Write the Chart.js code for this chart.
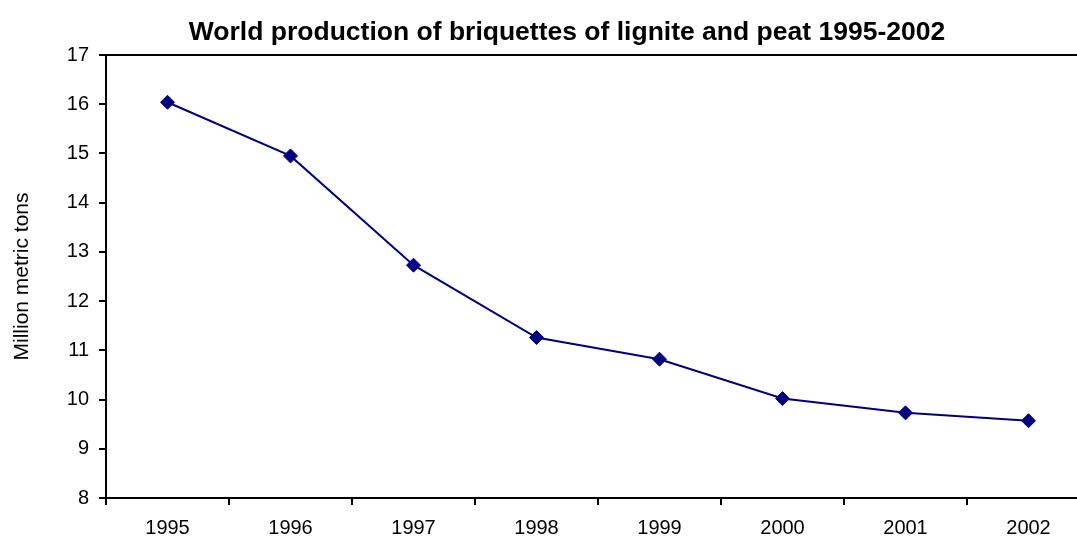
<!DOCTYPE html>
<html>
<head>
<meta charset="utf-8">
<script src="https://cdn.jsdelivr.net/npm/chart.js@4/dist/chart.umd.min.js"></script>
<style>
  html, body { margin: 0; padding: 0; background: #fff; overflow: hidden; }
  #wrap { width: 1100px; height: 538px; }
</style>
</head>
<body>
<div id="wrap"><canvas id="grafico"></canvas></div>
<script>
// dados //
const anos = ['1995', '1996', '1997', '1998', '1999', '2000', '2001', '2002'];
const producao = [16.04, 14.95, 12.73, 11.26, 10.82, 10.02, 9.73, 9.57];
const yTicks = [8, 9, 10, 11, 12, 13, 14, 15, 16, 17];
const titulo = 'World production of briquettes of lignite and peat 1995-2002';
const tituloY = 'Million metric tons';

const fonte = "'Liberation Sans', Arial, sans-serif";

// titulo
const tituloPlugin = {
    id: 'tituloPlugin',
    afterDraw(chart) {
        const c = chart.ctx;
        c.save();
        c.font = 'bold 26.5px ' + fonte;
        c.fillStyle = '#000';
        c.textAlign = 'center';
        c.textBaseline = 'alphabetic';
        c.fillText(titulo, 567, 40);
        c.restore();
    }
};

const ctx = document.getElementById('grafico');

new Chart(ctx, {
    type: 'line',
    data: {
        labels: anos,
        datasets: [{
            label: 'Production',
            data: producao,
            borderColor: '#000080',
            backgroundColor: '#000080',
            borderWidth: 2,
            pointStyle: 'rectRot',
            pointRadius: 7,
            pointBorderWidth: 1,
            pointBackgroundColor: '#000080',
            pointBorderColor: '#000080',
            tension: 0
        }]
    },
    options: {
        responsive: true,
        maintainAspectRatio: false,
        animation: false,
        layout: {
            padding: { top: 55, left: 0, right: 10, bottom: 0 }
        },
        plugins: {
            legend: { display: false },
            tooltip: { enabled: false },
            title: { display: false }
        },
        scales: {
            x: {
                offset: true,
                grid: {
                    offset: true,
                    drawOnChartArea: false,
                    tickLength: 7,
                    tickColor: '#000',
                    lineWidth: 2
                },
                border: { color: '#000', width: 2 },
                ticks: {
                    color: '#000',
                    font: { family: fonte, size: 20 },
                    padding: 11,
                    maxRotation: 0
                },
                afterFit(scale) { scale.height = 40; }
            },
            y: {
                min: 8,
                max: 17,
                afterBuildTicks(scale) {
                    scale.ticks = yTicks.map(v => ({ value: v }));
                },
                grid: {
                    color: c => (c.tick && c.tick.value === 17) ? '#000' : 'rgba(0,0,0,0)',
                    lineWidth: 2,
                    tickColor: '#000',
                    tickLength: 7
                },
                border: { color: '#000', width: 2 },
                ticks: {
                    color: '#000',
                    font: { family: fonte, size: 20 },
                    padding: 10
                },
                title: {
                    display: true,
                    text: tituloY,
                    color: '#000',
                    font: { family: fonte, size: 21 },
                    padding: { top: 10, bottom: 0 }
                },
                afterFit(scale) { scale.width = 106; }
            }
        }
    },
    plugins: [tituloPlugin]
});
</script>
</body>
</html>
